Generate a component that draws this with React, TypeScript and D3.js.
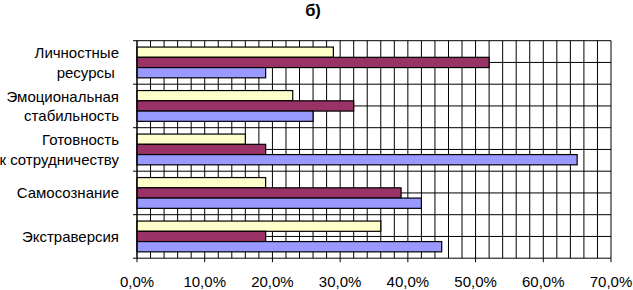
import React from "react";
import * as d3 from "d3";

const categories: string[][] = [
  ["Личностные", "ресурсы "],
  ["Эмоциональная", "стабильность"],
  ["Готовность", "к сотрудничеству"],
  ["Самосознание"],
  ["Экстраверсия"],
];
const seriesNames = ["s1", "s2", "s3"];
const seriesYellow = [29, 23, 16, 19, 36];
const seriesPurple = [52, 32, 19, 39, 19];
const seriesBlue = [19, 26, 65, 42, 45];
const seriesColors = ["#FFFFCC", "#993366", "#9999FF"];
const xTicks = [0, 10, 20, 30, 40, 50, 60, 70];
const title = "б)";

export default function App() {
  const W = 633, H = 290;
  const x = d3.scaleLinear().domain([0, 70]).range([137, 611]);
  const y = d3
    .scaleBand<number>()
    .domain(d3.range(categories.length))
    .range([40.7, 258.2])
    .paddingInner(0)
    .paddingOuter(0);
  const ys = d3
    .scaleBand<string>()
    .domain(seriesNames)
    .range([0, y.bandwidth()])
    .paddingInner(0)
    .paddingOuter(0.62);
  const data = [seriesYellow, seriesPurple, seriesBlue];
  const fmt = (v: number) => v.toFixed(1).replace(".", ",") + "%";
  const hLines: number[] = [];
  categories.forEach((_, i) => {
    hLines.push(y(i)!);
    hLines.push(y(i)! + y.bandwidth() / 2);
  });
  const bottom = y.range()[1];
  const top = y.range()[0];
  const font = "'Liberation Sans', Arial, sans-serif";
  return (
    <svg
      width={W}
      height={H}
      style={{ position: "absolute", left: 0, top: 0, background: "#fff" }}
      fontFamily={font}
    >
      <rect width={W} height={H} fill="#fff" />
      <text x={313} y={15.5} textAnchor="middle" fontSize={16.5} fontWeight="bold">
        {title}
      </text>
      {/* vertical gridlines */}
      {d3.range(0, 71, 2).map((v) => (
        <line key={"v" + v} x1={x(v)} x2={x(v)} y1={top} y2={bottom} stroke="#000" strokeWidth={1} />
      ))}
      {/* horizontal gridlines */}
      {hLines.map((yy, i) => (
        <line key={"h" + i} x1={x(0)} x2={x(70)} y1={yy} y2={yy} stroke="#000" strokeWidth={1} />
      ))}
      {/* bars */}
      {categories.map((_, ci) =>
        seriesNames.map((s, si) => (
          <rect
            key={ci + "-" + s}
            x={x(0)}
            y={y(ci)! + ys(s)!}
            width={x(data[si][ci]) - x(0)}
            height={ys.bandwidth()}
            fill={seriesColors[si]}
            stroke="#000"
            strokeWidth={1.2}
          />
        ))
      )}
      {/* axes */}
      <line x1={x(0)} x2={x(0)} y1={top} y2={bottom} stroke="#000" />
      <line x1={x(0)} x2={x(70)} y1={bottom} y2={bottom} stroke="#000" />
      {categories.map((_, i) => (
        <line key={"lt" + i} x1={x(0) - 4} x2={x(0)} y1={y(i)!} y2={y(i)!} stroke="#000" />
      ))}
      <line x1={x(0) - 4} x2={x(0)} y1={bottom} y2={bottom} stroke="#000" />
      {xTicks.map((t) => (
        <g key={"xt" + t}>
          <line x1={x(t)} x2={x(t)} y1={bottom} y2={bottom + 4} stroke="#000" />
          <text x={x(t)} y={287} textAnchor="middle" fontSize={15} fill="#000">
            {fmt(t)}
          </text>
        </g>
      ))}
      {/* category labels */}
      {categories.map((lines, i) => {
        const cy = y(i)! + y.bandwidth() / 2;
        const lh = 19.5;
        const start = cy - ((lines.length - 1) * lh) / 2;
        return (
          <text key={"c" + i} textAnchor="end" fontSize={15} fill="#000" style={{ whiteSpace: "pre" }}>
            {lines.map((l, li) => (
              <tspan key={li} x={119} y={start + li * lh + 5.5}>
                {l}
              </tspan>
            ))}
          </text>
        );
      })}
    </svg>
  );
}
